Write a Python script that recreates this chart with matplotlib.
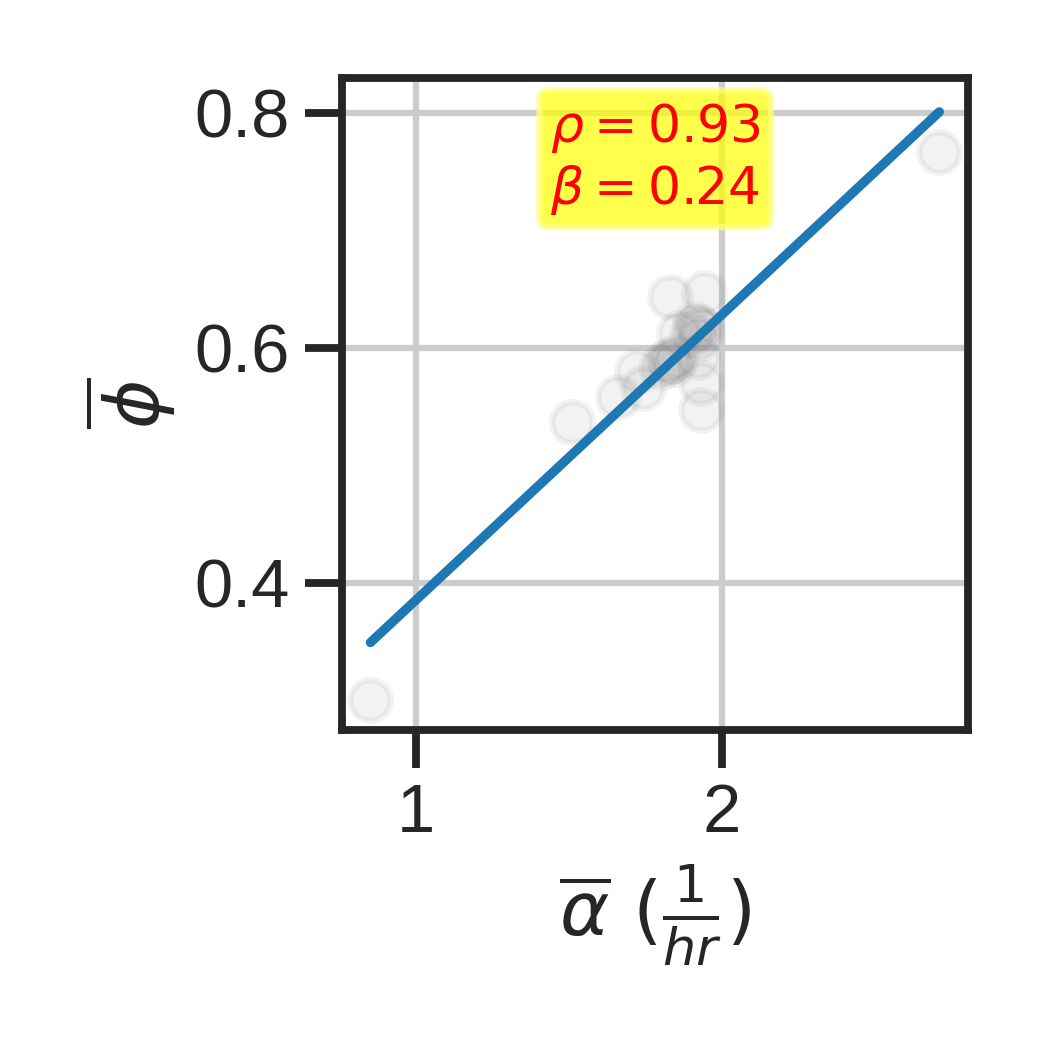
import numpy as np
import matplotlib
matplotlib.use("Agg")
import matplotlib.pyplot as plt
import seaborn as sns

sns.set_theme(context="talk", style="whitegrid")
sns.set_style("ticks", {"axes.grid": True})
plt.rcParams["font.family"] = ["Liberation Sans", "DejaVu Sans"]

# 数据
alpha_mean = [0.85, 1.51, 1.66, 1.72, 1.74, 1.80, 1.82, 1.83, 1.84, 1.85,
              1.83, 1.86, 1.90, 1.91, 1.92, 1.93, 1.92, 1.92, 1.93, 1.93,
              1.94, 2.71]
phi_mean = [0.30, 0.537, 0.558, 0.580, 0.566, 0.584, 0.588, 0.590, 0.586, 0.592,
            0.643, 0.613, 0.612, 0.620, 0.618, 0.616, 0.592, 0.608, 0.570, 0.547,
            0.647, 0.767]
rho_txt = 0.93
beta_txt = 0.24

x = np.array(alpha_mean)
y = np.array(phi_mean)
b, a = np.polyfit(x, y, 1)
xs = np.array([x.min(), x.max()])

fig = plt.figure(figsize=(3.5, 3.5), dpi=300)
ax = fig.add_axes([0.326, 0.305, 0.596, 0.621])
ax.scatter(x, y, s=95, color="gray", alpha=0.1, zorder=2)
ax.plot(xs, a + b * xs, color="#1f77b4", lw=2.25, zorder=3)

ax.set_xlim(0.758, 2.804)
ax.set_ylim(0.275, 0.83)
ax.set_xticks([1, 2])
ax.set_yticks([0.4, 0.6, 0.8])
ax.set_xlabel(r"$\overline{\alpha}\ (\frac{1}{hr})$")
ax.set_ylabel(r"$\overline{\phi}$")
for s in ax.spines.values():
    s.set_visible(True)

ax.text(0.5, 0.965, rf"$\rho={rho_txt:.2f}$" + "\n" + rf"$\beta={beta_txt:.2f}$",
        transform=ax.transAxes, ha="center", va="top", color="red", fontsize=12.5,
        bbox=dict(boxstyle="round,pad=0.2", fc=(1, 1, 0, 0.7), ec=(1, 1, 0.5, 0.7)),
        zorder=5)

fig.savefig("out.png", dpi=300)
